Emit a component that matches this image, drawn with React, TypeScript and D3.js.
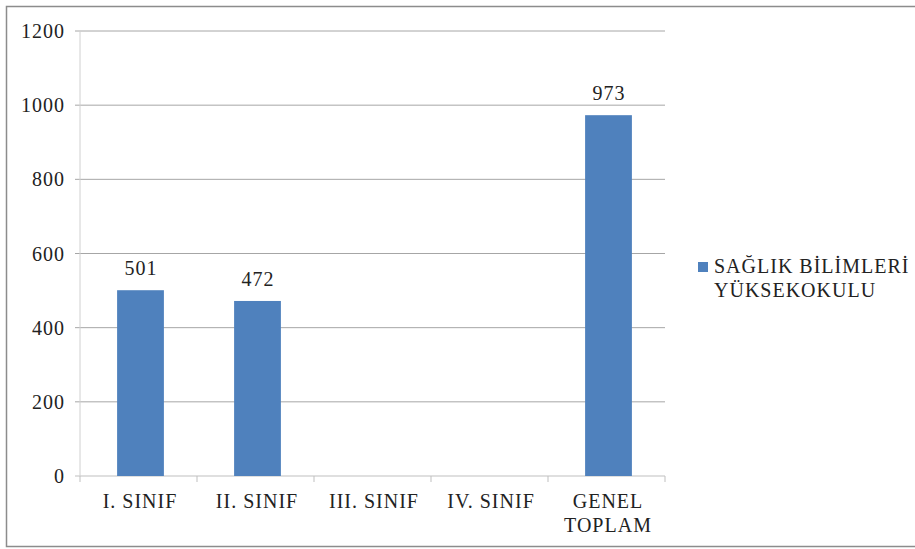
import React from "react";
import * as d3 from "d3";

const categories = ["I. SINIF", "II. SINIF", "III. SINIF", "IV. SINIF", "GENEL TOPLAM"];
const values: (number | null)[] = [501, 472, null, null, 973];
const yTicks = [0, 200, 400, 600, 800, 1000, 1200];
const seriesName = ["SAĞLIK BİLİMLERİ", "YÜKSEKOKULU"];

const W = 915, H = 549;
const left = 80, right = 665, top = 31, bottom = 476;
const FONT = "Liberation Serif";
const FS = 20;

export default function App() {
  const x = d3.scaleBand<string>().domain(categories).range([left, right]).paddingInner(0.6).paddingOuter(0.3);
  const band = d3.scaleBand<string>().domain(categories).range([left, right]);
  const y = d3.scaleLinear().domain([0, 1200]).range([bottom, top]);
  const labelLines = (c: string) => (c === "GENEL TOPLAM" ? ["GENEL", "TOPLAM"] : [c]);
  return (
    <svg width={W} height={H} fontFamily={FONT} fontSize={FS} letterSpacing={1} style={{ display: "block", position: "absolute", left: 0, top: 0, background: "#fff" }}>
      <rect x={6.5} y={6.5} width={W + 10} height={540} fill="#fff" stroke="#8c8c8c" strokeWidth={1.5} />
      {yTicks.map((t) => (
        <g key={t}>
          <line x1={left - 5} x2={right} y1={y(t)} y2={y(t)} stroke={t === 0 ? "#bfbfbf" : "#a6a6a6"} strokeWidth={1} />
          <text x={65} y={y(t) + 7} textAnchor="end" fill="#222">{t}</text>
        </g>
      ))}
      <line x1={left} x2={left} y1={top} y2={bottom} stroke="#d0d0d0" />
      {categories.map((c, i) => (
        <line key={"tk" + i} x1={band(c)!} x2={band(c)!} y1={bottom} y2={bottom + 6} stroke="#bfbfbf" />
      ))}
      <line x1={right} x2={right} y1={bottom} y2={bottom + 6} stroke="#bfbfbf" />
      {categories.map((c, i) => {
        const v = values[i];
        if (v == null) return null;
        const bx = x(c)! + 2;
        return (
          <g key={c}>
            <rect x={bx} y={y(v)} width={x.bandwidth()} height={bottom - y(v)} fill="#4f81bd" />
            <text x={bx + x.bandwidth() / 2 + 0.5} y={y(v) - 15} textAnchor="middle" fill="#222">{v}</text>
          </g>
        );
      })}
      {categories.map((c) => (
        <text key={"l" + c} x={band(c)! + band.bandwidth() / 2 + 1.5} y={508} textAnchor="middle" fill="#222">
          {labelLines(c).map((l, j) => (
            <tspan key={j} x={band(c)! + band.bandwidth() / 2 + 1.5} dy={j === 0 ? 0 : 24}>{l}</tspan>
          ))}
        </text>
      ))}
      <rect x={698} y={262} width={10} height={10} fill="#4f81bd" />
      <text x={714} y={273} fill="#222">
        <tspan x={714} dy={0}>{seriesName[0]}</tspan>
        <tspan x={714} dy={24}>{seriesName[1]}</tspan>
      </text>
    </svg>
  );
}
